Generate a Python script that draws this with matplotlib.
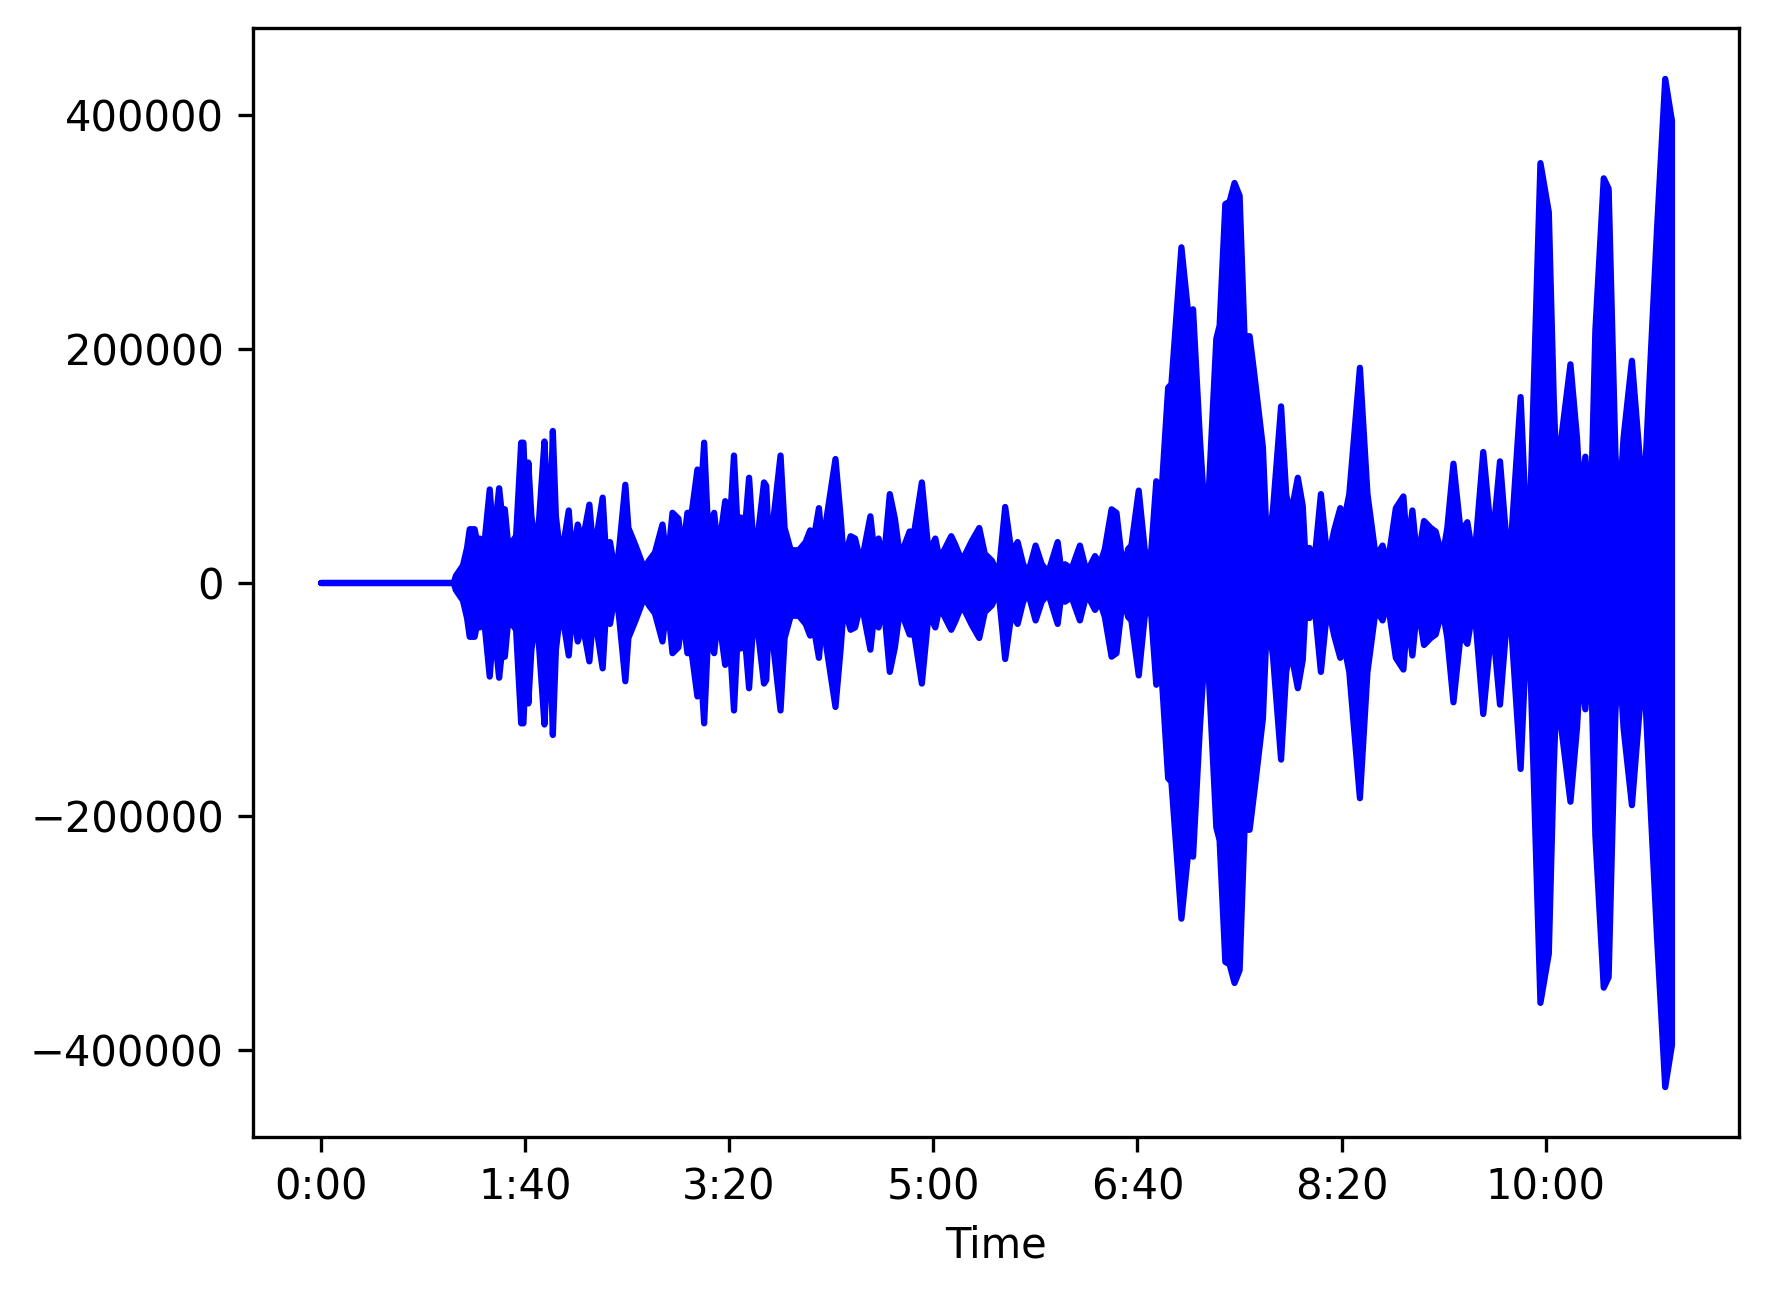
import matplotlib
matplotlib.use("Agg")
import matplotlib.pyplot as plt
from matplotlib.ticker import MultipleLocator, FuncFormatter
import numpy as np

# Envelope of the waveform: time (s) and peak amplitude (thousands)
env_time = [
    0.0, 65.0, 66.0, 69.5, 71.5, 72.8, 75.2, 77.0, 77.7, 79.5, 82.6, 84.5, 87.2, 88.5, 90.0,
    91.5, 93.5, 95.5, 98.0, 99.1, 100.5, 101.5, 103.0, 104.5, 106.0, 109.4, 110.2, 112.0,
    113.5, 115.0, 117.5, 121.3, 123.0, 125.7, 128.0, 131.4, 133.5, 137.9, 139.5, 141.5,
    144.4, 146.0, 149.0, 150.5, 154.0, 158.3, 160.5, 163.5, 167.2, 169.5, 172.1, 175.0,
    177.0, 179.4, 181.5, 184.3, 185.5, 187.6, 189.5, 192.5, 194.5, 197.9,
    199.8, 202.2, 204.0, 205.5, 207.0, 209.6, 211.5, 213.5, 216.9, 218.0, 219.5, 225.0,
    227.0, 230.0, 234.0, 237.3, 239.5, 240.5, 243.8, 246.0, 247.5, 251.9, 254.5, 256.0,
    259.3, 261.5, 264.5, 269.0, 271.5, 273.0, 275.5, 278.5, 281.0, 283.5, 288.2, 290.5,
    294.2, 297.5, 300.8, 303.0, 304.5, 308.6, 310.5, 313.5, 315.0, 318.7, 322.3, 325.0,
    328.5, 331.7, 335.0,
    338.1, 341.1, 343.8, 346.3, 349.9, 352.9, 356.1, 360.7, 362.6, 364.3, 367.5, 371.6,
    374.9, 379.0, 381.4, 383.8, 387.1, 389.5, 392.8, 395.2, 396.8, 400.4, 403.3, 405.8,
    409.0,
    411.5, 414.8, 416.4, 421.3, 424.6, 427.0, 430.3, 433.5, 438.4, 440.0, 442.8, 444.9,
    447.3, 449.8, 452.2, 454.7, 457.1, 461.2, 463.3, 466.1, 470.1, 472.6, 474.7, 478.3,
    480.7, 482.3, 484.0, 486.4, 489.6, 492.9, 496.1, 499.1, 500.2, 503.5, 508.7, 512.4,
    516.5, 519.8, 522.2, 526.3, 530.0, 532.0, 534.4, 536.9, 540.1, 543.4, 545.8, 549.1,
    551.5,
    554.5, 558.1, 561.3, 564.6, 569.1, 573.5, 577.3, 581.7, 587.4, 590.6, 592.3, 597.1,
    601.2, 603.6, 605.3, 606.9, 611.8, 615.0, 616.7, 619.1, 621.5, 624.0, 628.1, 630.5,
    633.8, 635.4, 637.8, 641.9, 646.0, 647.6, 650.9, 654.2, 658.2, 661.5,
]
env_amp_k = [
    0, 0, 6, 15, 30, 46, 46, 30, 38, 25, 80, 35, 81, 60, 63,
    35, 35, 40, 120, 120, 60, 103, 57, 39, 35, 121, 92, 40,
    130, 57, 20, 62, 20, 50, 35, 67, 23, 73, 25, 35,
    5, 30, 84, 47, 32, 12, 19, 26, 50, 15, 60, 55,
    25, 60, 60, 97, 60, 120, 46, 60, 26, 70,
    40, 109, 45, 56, 35, 90, 38, 35, 86, 83, 23, 109,
    47, 28, 28, 35, 45, 30, 64, 20, 55, 106, 55, 19,
    40, 38, 16, 57, 17, 38, 18, 76, 55, 22, 44, 44,
    86, 26, 38, 19, 26, 40, 33, 20, 23, 36, 47, 25,
    19, 6, 65,
    26, 35, 16, 9, 32, 16, 9, 35, 9, 16, 12, 32,
    9, 23, 16, 29, 63, 60, 10, 29, 32, 79, 29, 10,
    87,
    76, 167, 170, 287, 231, 234, 125, 37, 209, 220, 324, 326,
    342, 331, 211, 211, 177, 116, 27, 62, 151, 76, 57, 90,
    66, 13, 30, 18, 76, 18, 45, 64, 47, 76, 184, 76,
    22, 32, 15, 64, 74, 27, 62, 18, 53, 47, 44, 22,
    47,
    102, 43, 52, 17, 112, 32, 104, 9, 159, 32, 78, 359,
    317, 159, 78, 118, 187, 124, 72, 108, 43, 216, 346, 337,
    112, 55, 124, 190, 101, 66, 187, 303, 431, 395,
]

x_tick_step = 100  # seconds

t = np.array(env_time)
amp = np.array(env_amp_k) * 1000.0

W, H = 1771, 1294
fig = plt.figure(figsize=(W / 300, H / 300), dpi=300)
ax = fig.add_axes([253 / W, 1 - 1137 / H, (1739 - 253) / W, (1137 - 28) / H])
ax.fill_between(t, -amp, amp, facecolor="blue", edgecolor="blue", linewidth=1.5)
ax.plot([t[-1], t[-1]], [-amp[-1], amp[-1]], color="blue", linewidth=1.5)

ax.xaxis.set_major_locator(MultipleLocator(x_tick_step))
ax.xaxis.set_major_formatter(FuncFormatter(lambda s, pos: f"{int(s // 60)}:{int(round(s % 60)):02d}"))
ax.set_xlabel("Time")
ax.margins(x=0.05, y=0.05)

fig.savefig("out.png", dpi=300)
